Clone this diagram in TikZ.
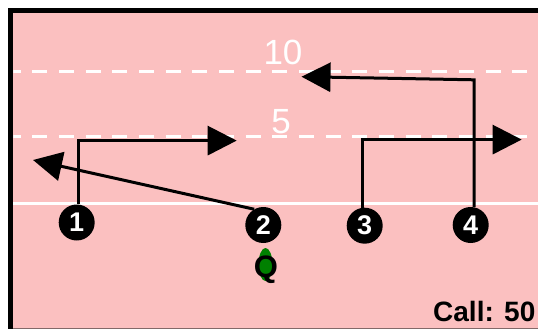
\documentclass[tikz,border=0pt]{standalone}
\usepackage{fontspec}
\setmainfont{Liberation Sans}
\usetikzlibrary{arrows.meta,shapes.geometric}
\definecolor{fieldpink}{RGB}{251,192,192}
\definecolor{qgreen}{RGB}{0,128,0}
\definecolor{edgegray}{RGB}{130,105,105}
\begin{document}
\begin{tikzpicture}[x=1pt,y=-1pt,
  yardline/.style={white, line width=3.4pt, dash pattern=on 15pt off 11.67pt},
  scrimmage/.style={white, line width=3pt},
  route/.style={black, line width=3pt, line join=miter},
  routearrow/.style={route, -{Triangle[length=29pt,width=29pt]}},
  player/.style={circle, fill=black, minimum size=36pt, inner sep=0pt, text=white, font=\fontsize{27}{27}\selectfont\bfseries},
  yardnum/.style={white, inner sep=0pt, font=\fontsize{35}{35}\selectfont},
  calltext/.style={inner sep=0pt, font=\fontsize{28}{28}\selectfont\bfseries},
  qtext/.style={inner sep=0pt, font=\fontsize{31}{31}\selectfont\bfseries},
  qback/.style={ellipse, fill=qgreen, minimum width=14pt, minimum height=33pt, inner sep=0pt},
]
\useasboundingbox (0,0) rectangle (538,329);
\fill[white] (0,0) rectangle (538,329);
\fill[black] (8,8) rectangle (545,340);
\fill[edgegray] (13.3,13.3) rectangle (545,329.5);
\fill[fieldpink] (13.3,13.3) rectangle (545,327.6);
\begin{scope}
  \clip (13.3,13.3) rectangle (545,327.6);
  \draw[yardline] (5.6,71.8) -- (545,71.8);
  \draw[yardline] (5.6,136.5) -- (545,136.5);
\end{scope}
\draw[scrimmage] (13.3,203) -- (545,203);

\node[yardnum] (n10) at (283,52.5) {10};
\node[yardnum] (n5) at (281,122) {5};

\node[player] (p1) at (76.7,222.5) {1};
\node[player] (p2) at (263.3,225) {2};
\node[player] (p3) at (364.7,225.7) {3};
\node[player] (p4) at (470.7,225) {4};

\coordinate (c1) at (78.3,140.6);
\coordinate (t1) at (236.7,140.6);
\coordinate (t2) at (33,160);
\coordinate (c3) at (362.3,139.6);
\coordinate (t3) at (521.7,139.6);
\coordinate (c4) at (474,79.8);
\coordinate (t4) at (301.5,76.7);

\draw[routearrow] (p1.north -| c1) -- (c1) -- (t1);
\draw[routearrow] (p2.120) -- (t2);
\draw[routearrow] (p3.north -| c3) -- (c3) -- (t3);
\draw[routearrow] (p4.north -| c4) -- (c4) -- (t4);

\node[qback] (qb) at (265.5,264.5) {};
\node[qtext, anchor=base] (q) at (266,277) {Q};

\node[calltext, anchor=base west] (call) at (433,321) {Call: 50};
\end{tikzpicture}
\end{document}
